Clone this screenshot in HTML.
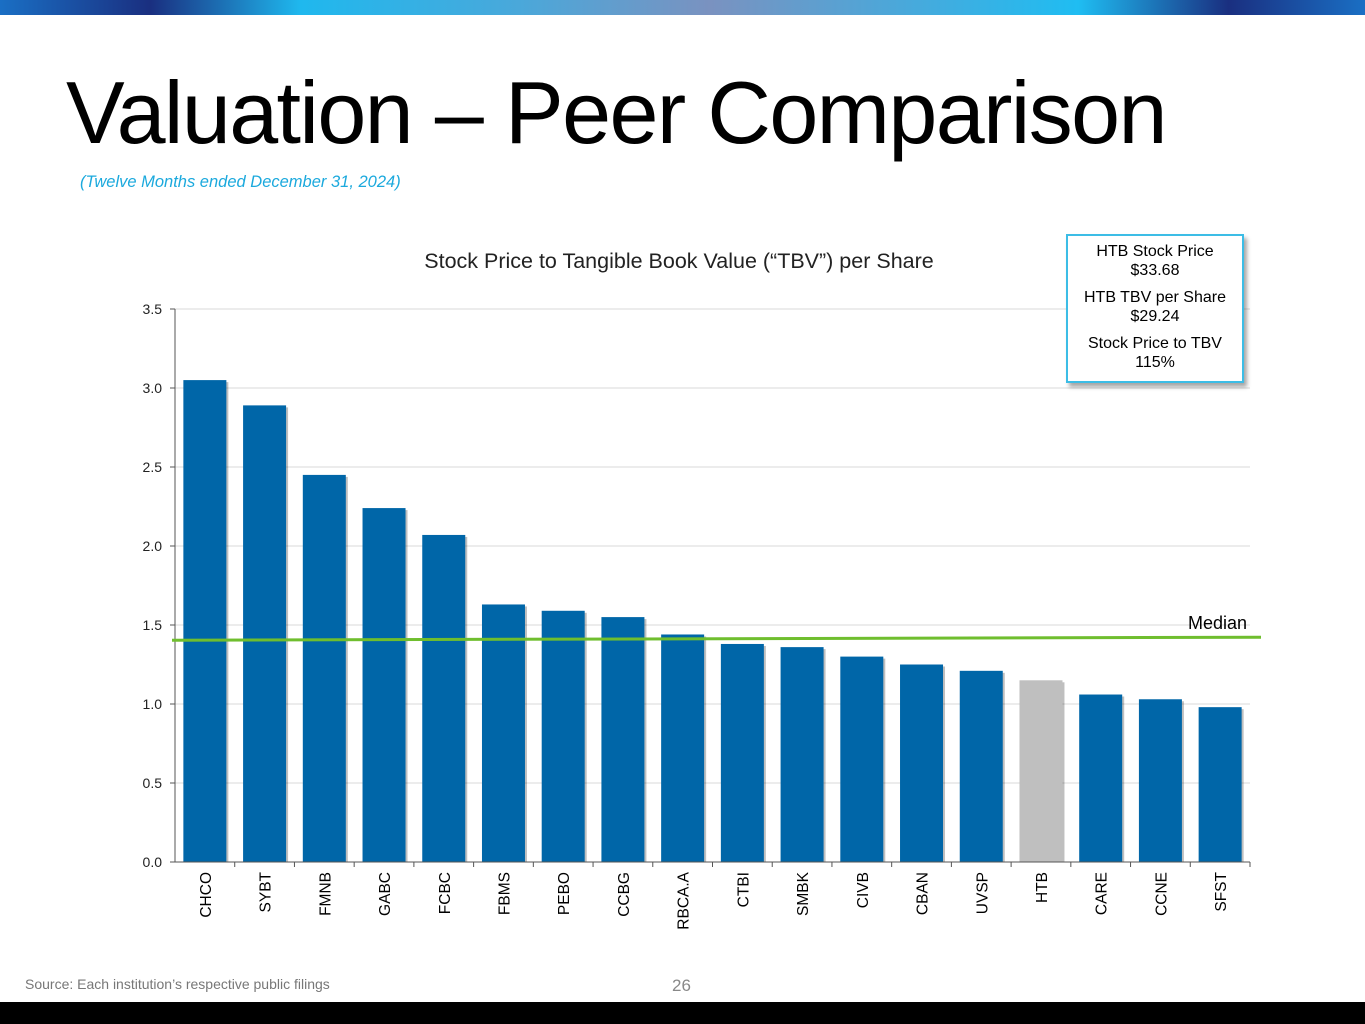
<!DOCTYPE html>
<html><head><meta charset="utf-8"><style>
body{margin:0;width:1365px;height:1024px;position:relative;background:#fff;font-family:"Liberation Sans",sans-serif;overflow:hidden}
.top{position:absolute;left:0;top:0;width:1365px;height:15px;background:linear-gradient(90deg,#1a6fc4 0%,#1a2f80 11%,#1fb8ee 22%,#4aa8da 38%,#7a92c0 52%,#4aa8da 66%,#1fbdf2 79%,#1a2f80 90%,#1a6fc4 100%)}
.bot{position:absolute;left:0;top:1002px;width:1365px;height:22px;background:#000}
h1{position:absolute;left:66px;top:62px;margin:0;font-weight:400;font-size:88px;letter-spacing:-1.6px;color:#000}
.sub{position:absolute;left:80px;top:173px;font-style:italic;font-size:16.5px;color:#1ba9dd}
.box{position:absolute;left:1066px;top:234px;width:174px;height:145px;border:2px solid #3cbde6;box-shadow:3px 4px 4px rgba(0,0,0,.35);background:#fff;text-align:center;font-size:16px;line-height:19px;color:#000}
.src{position:absolute;left:25px;top:976px;font-size:14px;color:#777}
.pg{position:absolute;left:672px;top:976px;font-size:17px;color:#888}
</style></head><body>
<div class="top"></div>
<h1>Valuation – Peer Comparison</h1>
<div class="sub">(Twelve Months ended December 31, 2024)</div>
<svg id="chart" width="1365" height="1024" style="position:absolute;left:0;top:0"></svg>
<div class="box">
<div style="margin-top:6px">HTB Stock Price<br>$33.68</div>
<div style="margin-top:8px">HTB TBV per Share<br>$29.24</div>
<div style="margin-top:8px">Stock Price to TBV<br>115%</div>
</div>
<div class="src">Source: Each institution’s respective public filings</div>
<div class="pg">26</div>
<div class="bot"></div>
<script>
const categories=["CHCO","SYBT","FMNB","GABC","FCBC","FBMS","PEBO","CCBG","RBCA.A","CTBI","SMBK","CIVB","CBAN","UVSP","HTB","CARE","CCNE","SFST"];
const values=[3.05,2.89,2.45,2.24,2.07,1.63,1.59,1.55,1.44,1.38,1.36,1.30,1.25,1.21,1.15,1.06,1.03,0.98];
const highlight=["HTB"];
const ticks=[0,0.5,1.0,1.5,2.0,2.5,3.0,3.5];
const median=[1.41];
const NS="http://www.w3.org/2000/svg",svg=document.getElementById('chart');
const x0=175,x1=1250,y0=862,y1=309,vmax=3.5;
const Y=v=>y0-(v/vmax)*(y0-y1);
const step=(x1-x0)/categories.length;
const X=i=>x0+step*(i+0.5);
function mk(t,a,txt){const e=document.createElementNS(NS,t);for(const k in a)e.setAttribute(k,a[k]);if(txt!=null)e.textContent=txt;svg.appendChild(e);return e;}
let e=mk('text',{x:679,y:268,'text-anchor':'middle','font-size':21.5,fill:'#222'},'Stock Price to Tangible Book Value (“TBV”) per Share');


ticks.forEach(t=>{
 if(t>0){e=mk('line',{x1:x0,x2:x1,y1:Y(t),y2:Y(t),stroke:'#d9d9d9','stroke-width':1});
 
 }
 e=mk('line',{x1:x0-5,x2:x0,y1:Y(t),y2:Y(t),stroke:'#555'});
 
 
 e=mk('text',{x:x0-13,y:Y(t)+5,'text-anchor':'end','font-size':14,fill:'#222'},t.toFixed(1));
 
 
});
values.forEach((v,i)=>{
 const bw=43;
 e=mk('rect',{x:X(i)-bw/2+2,y:Y(v)+2,width:bw,height:y0-Y(v)-2,fill:'rgba(0,0,0,0.25)'});
 
 
 e=mk('rect',{x:X(i)-bw/2,y:Y(v),width:bw,height:y0-Y(v),fill:highlight.includes(categories[i])?'#bfbfbf':'#0066a8'});
 
 
 e=mk('line',{x1:x0+step*(i+1),x2:x0+step*(i+1),y1:y0,y2:y0+5,stroke:'#555'});
 
 
 e=mk('text',{x:0,y:0,'text-anchor':'end','font-size':15.5,fill:'#000',transform:`translate(${X(i)+6},${y0+10}) rotate(-90)`},categories[i]);
 
 
});
e=mk('line',{x1:x0,x2:x0,y1:y1,y2:y0,stroke:'#555'});


e=mk('line',{x1:x0-5,x2:x1,y1:y0,y2:y0,stroke:'#555'});


e=mk('line',{x1:172,x2:1261,y1:Y(median[0])+1,y2:Y(median[0])-2,stroke:'#6fbe2e','stroke-width':3});


e=mk('text',{x:1247,y:629,'text-anchor':'end','font-size':18,fill:'#000'},'Median');


</script>
</body></html>
